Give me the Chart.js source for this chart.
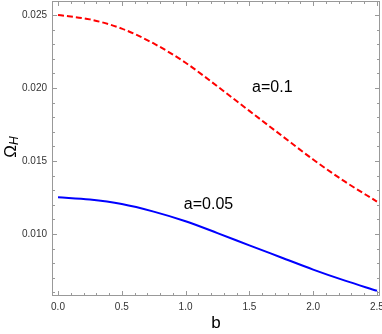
<!DOCTYPE html>
<html>
<head>
<meta charset="utf-8">
<script src="https://cdn.jsdelivr.net/npm/chart.js@4.4.0/dist/chart.umd.min.js"></script>
<style>
  html, body { margin: 0; padding: 0; background: #fff; }
  #wrap { width: 382px; height: 334px; }
</style>
</head>
<body>
<div id="wrap"><canvas id="grafico"></canvas></div>
<script>
// valores
const valoresB = [0, 0.25, 0.5, 0.75, 1.0, 1.25, 1.5, 1.75, 2.0, 2.25, 2.5];
const omegaA01 = [0.02500, 0.02470, 0.02407, 0.02305, 0.02173, 0.02011, 0.01843, 0.01676, 0.01510, 0.01358, 0.01222];
const omegaA005 = [0.01251, 0.01236, 0.01205, 0.01153, 0.01087, 0.01006, 0.00922, 0.00839, 0.00756, 0.00680, 0.00611];
const ticksX = [0, 0.5, 1.0, 1.5, 2.0, 2.5];
const ticksY = [0.010, 0.015, 0.020, 0.025];
const rotulos = [
    { texto: 'a=0.1', x: 1.68, y: 0.0200 },
    { texto: 'a=0.05', x: 1.18, y: 0.0120 }
];

const fonte = '"Liberation Sans", Arial, sans-serif';
const pontos = (ys) => valoresB.map((b, i) => ({ x: b, y: ys[i] }));

// moldura com marcas para dentro, estilo Mathematica
const molduraPlugin = {
    id: 'moldura',
    afterDraw(chart) {
        const { ctx, chartArea: a, scales } = chart;
        const sx = scales.x, sy = scales.y;
        ctx.save();
        ctx.strokeStyle = '#999';
        ctx.lineWidth = 1;
        ctx.strokeRect(a.left + 0.5, a.top + 0.5, a.right - a.left - 1, a.bottom - a.top - 1);

        ctx.beginPath();
        for (let i = 0; i <= 25; i++) {
            const v = i / 10;
            const px = Math.round(sx.getPixelForValue(v)) + 0.5;
            const len = (i % 5 === 0) ? 5 : 3;
            ctx.moveTo(px, a.bottom); ctx.lineTo(px, a.bottom - len);
            ctx.moveTo(px, a.top); ctx.lineTo(px, a.top + len);
        }
        for (let i = 6; i <= 25; i++) {
            const v = i / 1000;
            const py = Math.round(sy.getPixelForValue(v)) + 0.5;
            const len = (i % 5 === 0) ? 5 : 3;
            ctx.moveTo(a.left, py); ctx.lineTo(a.left + len, py);
            ctx.moveTo(a.right, py); ctx.lineTo(a.right - len, py);
        }
        ctx.stroke();

        // rótulos das curvas
        ctx.fillStyle = '#000';
        ctx.font = '16px ' + fonte;
        ctx.textAlign = 'center';
        ctx.textBaseline = 'middle';
        rotulos.forEach(r => {
            ctx.fillText(r.texto, sx.getPixelForValue(r.x), sy.getPixelForValue(r.y));
        });

        // título do eixo y: Omega_H
        ctx.translate(11, 147);
        ctx.rotate(-Math.PI / 2);
        ctx.textAlign = 'left';
        ctx.textBaseline = 'middle';
        ctx.font = 'italic 12px ' + fonte;
        const wH = ctx.measureText('H').width;
        ctx.font = '17px ' + fonte;
        const wO = ctx.measureText('Ω').width;
        const x0 = -(wO + wH) / 2;
        ctx.fillText('Ω', x0, 0);
        ctx.font = 'italic 12px ' + fonte;
        ctx.fillText('H', x0 + wO, 4);
        ctx.restore();
    }
};

new Chart(document.getElementById('grafico').getContext('2d'), {
    type: 'line',
    data: {
        datasets: [
            {
                label: 'a=0.1',
                data: pontos(omegaA01),
                borderColor: '#ff0000',
                borderWidth: 2,
                borderDash: [6, 3],
                pointRadius: 0,
                cubicInterpolationMode: 'monotone',
                fill: false
            },
            {
                label: 'a=0.05',
                data: pontos(omegaA005),
                borderColor: '#0000ff',
                borderWidth: 2,
                pointRadius: 0,
                cubicInterpolationMode: 'monotone',
                fill: false
            }
        ]
    },
    options: {
        responsive: true,
        maintainAspectRatio: false,
        animation: false,
        layout: { padding: { top: 1, right: 2, left: 0, bottom: 0 } },
        plugins: { legend: { display: false }, tooltip: { enabled: false } },
        scales: {
            x: {
                type: 'linear',
                min: -0.047,
                max: 2.524,
                grid: { display: false, drawTicks: false },
                border: { display: false },
                afterBuildTicks: (s) => { s.ticks = ticksX.map(v => ({ value: v })); },
                afterFit: (s) => { s.height = 38; s.paddingLeft = 0; s.paddingRight = 0; },
                ticks: {
                    padding: 5,
                    color: '#333',
                    font: { family: fonte, size: 10 },
                    maxRotation: 0,
                    callback: (v) => Number(v).toFixed(1)
                },
                title: {
                    display: true,
                    text: 'b',
                    color: '#000',
                    font: { family: fonte, size: 17 },
                    padding: { top: 0, bottom: 0 }
                }
            },
            y: {
                type: 'linear',
                min: 0.00575,
                max: 0.02596,
                grid: { display: false, drawTicks: false },
                border: { display: false },
                afterBuildTicks: (s) => { s.ticks = ticksY.map(v => ({ value: v })); },
                afterFit: (s) => { s.width = 52; s.paddingTop = 0; s.paddingBottom = 0; },
                ticks: {
                    padding: 5,
                    color: '#333',
                    font: { family: fonte, size: 10 },
                    callback: (v) => Number(v).toFixed(3)
                }
            }
        }
    },
    plugins: [molduraPlugin]
});
</script>
</body>
</html>
